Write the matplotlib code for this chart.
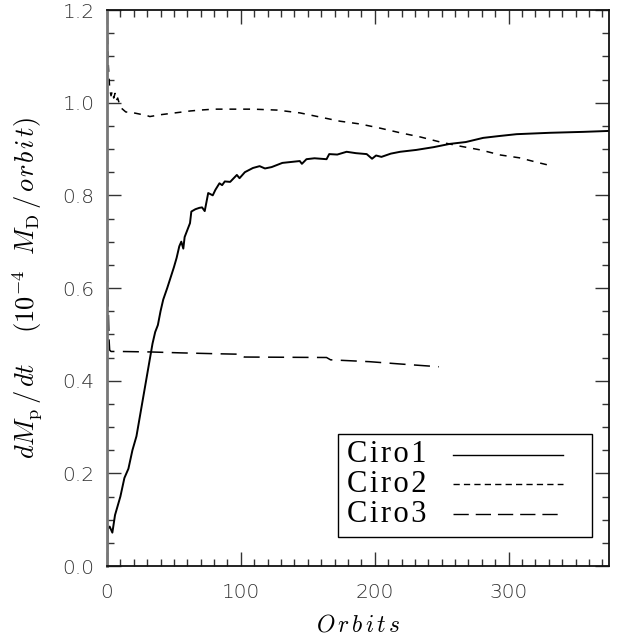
import matplotlib
matplotlib.use("Agg")
import matplotlib.pyplot as plt
from matplotlib.ticker import MultipleLocator, FormatStrFormatter
from matplotlib.lines import Line2D

plt.rcParams['mathtext.fontset'] = 'cm'

ciro1_x = [0, 0.5, 2, 4, 6, 8, 10, 13, 16, 19, 22, 25, 28, 31, 34, 36, 38, 40, 42, 45, 47, 50, 52, 54,
           55.5, 57, 58, 60, 62, 63, 66, 69, 71, 73, 75.6, 79, 81, 84, 86, 88, 92, 97, 99, 103, 109,
           114, 118, 123, 131, 144, 145.6, 149, 155, 164, 166, 172, 179, 186, 194, 198, 201, 205,
           212, 219, 231, 244, 256, 268, 281, 293, 306, 331, 356, 375]
ciro1_y = [0.0, 0.08, 0.085, 0.072, 0.11, 0.13, 0.15, 0.19, 0.21, 0.25, 0.28, 0.33, 0.38, 0.43, 0.48,
           0.505, 0.52, 0.55, 0.575, 0.60, 0.618, 0.645, 0.665, 0.69, 0.70, 0.685, 0.71, 0.725, 0.74,
           0.765, 0.77, 0.773, 0.774, 0.766, 0.805, 0.80, 0.812, 0.826, 0.822, 0.83, 0.829, 0.844,
           0.837, 0.85, 0.859, 0.863, 0.858, 0.861, 0.87, 0.874, 0.868, 0.878, 0.88, 0.878, 0.889,
           0.888, 0.894, 0.891, 0.889, 0.879, 0.886, 0.883, 0.89, 0.894, 0.898, 0.904, 0.911, 0.915,
           0.924, 0.928, 0.932, 0.935, 0.937, 0.939]

ciro2_x = [0, 0.3, 1, 2, 3, 4, 5, 6, 7, 8, 9, 10, 12, 14, 17, 20, 25, 30, 32, 36, 40, 51, 62, 69.5,
           80, 95.6, 109, 127, 144, 159, 174, 189, 204, 219, 234, 249, 264, 279, 294, 308, 323, 333]
ciro2_y = [1.2, 1.15, 1.08, 1.03, 1.015, 1.025, 1.01, 1.02, 1.005, 1.01, 1.0, 0.99, 0.985, 0.98,
           0.979, 0.978, 0.975, 0.972, 0.97, 0.972, 0.974, 0.978, 0.982, 0.984, 0.986, 0.986, 0.986,
           0.984, 0.978, 0.969, 0.960, 0.954, 0.945, 0.935, 0.926, 0.915, 0.906, 0.898, 0.887,
           0.881, 0.870, 0.863]

ciro3_x = [0, 0.5, 1, 1.5, 2, 3, 10, 32, 55, 83, 101, 102.5, 164, 167, 196, 219, 248]
ciro3_y = [0.70, 0.62, 0.55, 0.49, 0.466, 0.463, 0.463, 0.462, 0.460, 0.458, 0.457, 0.451, 0.450,
           0.445, 0.441, 0.436, 0.430]

labels = ["Ciro1", "Ciro2", "Ciro3"]

fig = plt.figure(figsize=(6.19, 6.41), dpi=100)
ax = fig.add_axes([107/619, 75/641, 502/619, 556/641])

ax.plot(ciro1_x, ciro1_y, color='black', lw=1.4, linestyle='-')
ax.plot(ciro2_x, ciro2_y, color='black', lw=1.1, linestyle=(0, (4.5, 4.5)))
ax.plot(ciro3_x, ciro3_y, color='black', lw=1.1, linestyle=(0, (10.5, 5.5)))

ax.set_xlim(0, 375)
ax.set_ylim(0, 1.2)
ax.xaxis.set_major_locator(MultipleLocator(100))
ax.xaxis.set_minor_locator(MultipleLocator(10))
ax.yaxis.set_major_locator(MultipleLocator(0.2))
ax.yaxis.set_minor_locator(MultipleLocator(0.05))
ax.tick_params(which='both', direction='in', top=True, right=True, color='#333333', width=1.0)
ax.tick_params(which='major', length=10)
ax.tick_params(which='minor', length=5)
ax.tick_params(axis='x', labelsize=14.5, labelcolor='#333333', pad=12)
ax.tick_params(axis='y', labelsize=14.5, labelcolor='#333333', pad=9)
for lab in ax.get_xticklabels() + ax.get_yticklabels():
    lab.set_fontweight(200)
ax.yaxis.set_major_formatter(FormatStrFormatter('%.1f'))
for s in ax.spines.values():
    s.set_linewidth(1.3)
    s.set_color('#111111')
ax.spines['left'].set_color('#777777')
ax.spines['left'].set_linewidth(2)

ax.set_xlabel(r'$O\,r\,b\,i\,t\,s$', fontsize=17, labelpad=8)
fig.text(27/619, 1 - 288/641,
         r'$dM_{\rm p}\,/\,dt\ \ \ \ (10^{-4}\ \ M_{\rm D}\,/\,o\!\;r\!\;b\!\;i\!\;t)$',
         fontsize=19, rotation=90, ha='center', va='center')

# legend box
bx0, bx1 = (338-107)/502, (592-107)/502
by0, by1 = (566-537)/556, (566-434)/556
ax.add_patch(plt.Rectangle((bx0, by0), bx1-bx0, by1-by0, transform=ax.transAxes,
                           fill=False, edgecolor='black', lw=1.0, zorder=5))
styles = ['-', (0, (4.5, 3)), (0, (11, 5))]
ys = [455, 484, 514]
sp = '\u200a'
for lab, st, yp in zip(labels, styles, ys):
    ya = (566 - yp) / 556
    ax.text((347-107)/502, ya, sp.join(lab), transform=ax.transAxes, fontsize=22,
            family='Liberation Serif', va='center', ha='left')
    ax.add_line(Line2D([(453-107)/502, (563-107)/502], [ya, ya], transform=ax.transAxes,
                       color='black', lw=1.0, linestyle=st))

fig.savefig('out.png', dpi=100)
